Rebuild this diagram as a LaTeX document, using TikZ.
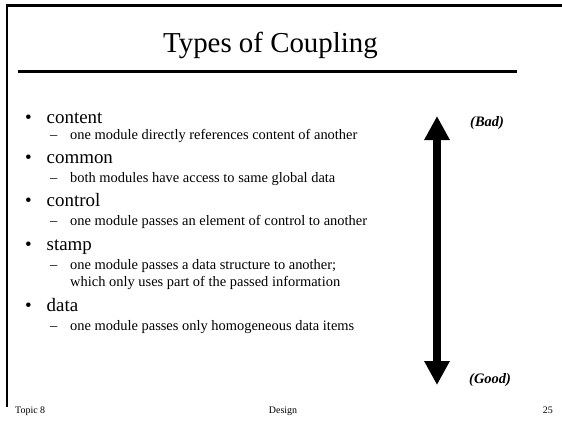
\documentclass[tikz,border=0pt]{standalone}
\usepackage{fontspec}
\setmainfont{Liberation Serif}
\usetikzlibrary{arrows.meta}

\begin{document}
\begin{tikzpicture}[x=1bp,y=-1bp,
		frame/.style={line width=2.5bp,black},
		item/.style={anchor=base west,inner sep=0pt,font=\fontsize{19}{22}\selectfont},
		subitem/.style={anchor=base west,inner sep=0pt,font=\fontsize{14.5}{17}\selectfont},
		tag/.style={anchor=base west,inner sep=0pt,font=\fontsize{14.5}{17}\selectfont\bfseries\itshape},
		foot/.style={anchor=base,inner sep=0pt,font=\fontsize{10}{12}\selectfont}]
		\useasboundingbox (0,0) rectangle (562,423);
		% slide frame and title rule
		\coordinate (tl) at (7,5.5);
		\coordinate (tr) at (562,5.5);
		\coordinate (bl) at (7,407);
		\draw [frame] (bl) -- (tl) -- (tr);
		\node [anchor=base,inner sep=0pt,font=\fontsize{29}{34}\selectfont] (title) at (270.5,52) {Types of Coupling};
		\coordinate (rulel) at (18,71);
		\coordinate (ruler) at (517,71);
		\draw [line width=3bp] (rulel) -- (ruler);
		% the five kinds, each with a bullet and a note
		\node [item] (b1) at (25,123) {•};
		\node [item] (content) at (46.5,123) {content};
		\node [subitem] (d1) at (50,139) {–};
		\node [subitem] (content note) at (70,139) {one module directly references content of another};
		\node [item] (b2) at (25,163) {•};
		\node [item] (common) at (46.5,163) {common};
		\node [subitem] (d2) at (50,182) {–};
		\node [subitem] (common note) at (70,182) {both modules have access to same global data};
		\node [item] (b3) at (25,206) {•};
		\node [item] (control) at (46.5,206) {control};
		\node [subitem] (d3) at (50,225) {–};
		\node [subitem] (control note) at (70,225) {one module passes an element of control to another};
		\node [item] (b4) at (25,250) {•};
		\node [item] (stamp) at (46.5,250) {stamp};
		\node [subitem] (d4) at (50,269) {–};
		\node [subitem] (stamp note) at (70,269) {one module passes a data structure to another;};
		\node [subitem] (stamp note2) at (70,286) {which only uses part of the passed information};
		\node [item] (b5) at (25,311) {•};
		\node [item] (data) at (46.5,311) {data};
		\node [subitem] (d5) at (50,330) {–};
		\node [subitem] (data note) at (70,330) {one module passes only homogeneous data items};
		% scale from bad to good
		\coordinate (bad end) at (437,116);
		\coordinate (good end) at (437,385);
		\draw [line width=8bp,{Triangle[width=24bp,length=24bp]}-{Triangle[width=24bp,length=24bp]}] (bad end) -- (good end);
		\node [tag] (bad) at (470,126) {(Bad)};
		\node [tag] (good) at (469,383) {(Good)};
		% footer
		\node [foot,anchor=base west] (topic) at (15,413) {Topic 8};
		\node [foot] (design) at (283,413) {Design};
		\node [foot,anchor=base east] (page) at (553,413) {25};
\end{tikzpicture}
\end{document}
